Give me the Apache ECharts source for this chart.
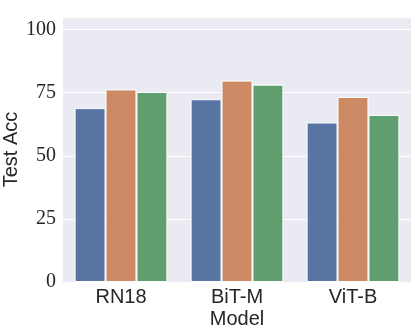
<!DOCTYPE html>
<html>
<head>
  <meta charset="utf-8">
  <title>Test Acc by Model</title>
  <style>
    html, body { margin: 0; padding: 0; background: #fff; }
    #main { width: 415px; height: 332px; }
  </style>
</head>
<body>
<div id="main"></div>
<script src="https://cdn.jsdelivr.net/npm/echarts@6/dist/echarts.min.js"></script>
<script>
  // data
  var models = ['RN18', 'BiT-M', 'ViT-B'];
  var seriesA = [68.9, 72.4, 63.2];
  var seriesB = [76.3, 79.8, 73.3];
  var seriesC = [75.3, 78.2, 66.2];
  var yTicks = [0, 25, 50, 75, 100];

  var colors = ['#5975A4', '#CC8963', '#5F9E6E'];
  var sansFont = '"Liberation Sans", sans-serif';
  var serifFont = '"Liberation Serif", serif';

  function barSeries(values, color) {
    return {
      type: 'bar',
      data: values,
      barGap: 0,
      barCategoryGap: '20%',
      itemStyle: { color: color, borderColor: '#ffffff', borderWidth: 1 }
    };
  }

  var myChart = echarts.init(document.getElementById('main'));
  myChart.setOption({
    animation: false,
    grid: {
      left: 63, right: 4, top: 17, bottom: 50,
      outerBoundsMode: 'none',
      show: true, backgroundColor: '#EAEAF2', borderWidth: 0
    },
    xAxis: {
      type: 'category',
      data: models,
      name: 'Model',
      nameLocation: 'middle',
      nameGap: 27,
      nameMoveOverlap: false,
      nameTextStyle: { fontFamily: sansFont, fontSize: 20, color: '#262626' },
      axisLine: { show: false },
      axisTick: { show: false },
      axisLabel: { margin: 5, fontFamily: sansFont, fontSize: 20, color: '#262626' }
    },
    yAxis: {
      type: 'value',
      min: 0,
      max: 105,
      interval: 25,
      name: 'Test Acc',
      nameLocation: 'middle',
      nameGap: 42,
      nameMoveOverlap: false,
      nameTextStyle: { fontFamily: sansFont, fontSize: 20, color: '#262626' },
      axisLine: { show: false },
      axisTick: { show: false },
      splitLine: { lineStyle: { color: '#ffffff', width: 1 } },
      axisLabel: {
        margin: 7,
        fontFamily: serifFont,
        fontSize: 20,
        color: '#262626',
        formatter: function (v) { return yTicks.indexOf(v) >= 0 ? String(v) : ''; }
      }
    },
    series: [
      barSeries(seriesA, colors[0]),
      barSeries(seriesB, colors[1]),
      barSeries(seriesC, colors[2])
    ]
  });
</script>
</body>
</html>
